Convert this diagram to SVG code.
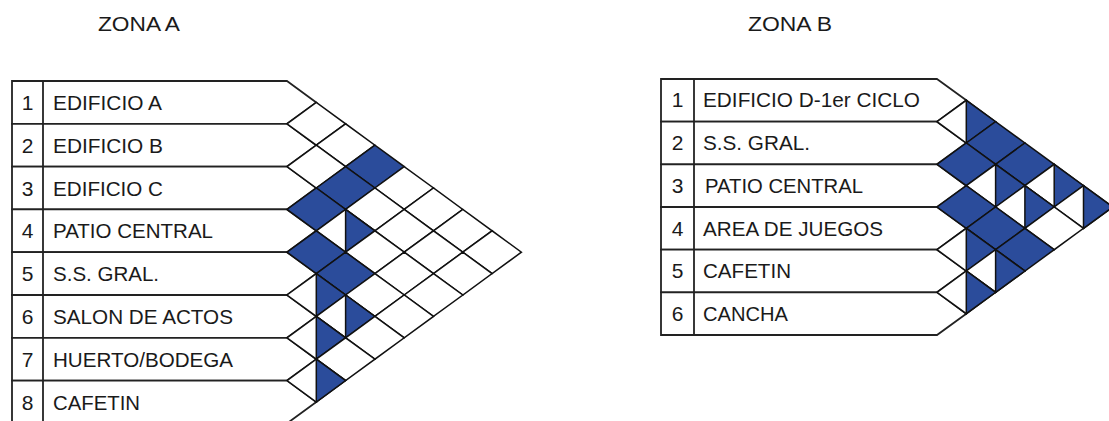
<svg xmlns="http://www.w3.org/2000/svg" width="1109" height="421" viewBox="0 0 1109 421">
<defs>
<style>
text{font-family:"Liberation Sans",Arial,sans-serif;fill:#1a1a1a;}
.lbl{font-size:21px;}
.num{font-size:21px;text-anchor:middle;}
.ttl{font-size:20px;}
.row{fill:#fff;stroke:#222;stroke-width:1.8;}
.div{stroke:#222;stroke-width:1.8;}
.w{fill:#fff;stroke:#111;stroke-width:1.5;}
.b{fill:#2b4c9b;stroke:#111;stroke-width:1.5;}
</style>
<path id="dia" d="M-29.3 0L0 -21.4L29.3 0L0 21.4Z"/>
<path id="half" d="M0 -21.4L29.3 0L0 21.4Z"/>
</defs>
<rect width="1109" height="421" fill="#fff"/>

<text class="ttl" x="98" y="31" textLength="82" lengthAdjust="spacingAndGlyphs">ZONA A</text>
<text class="ttl" x="748" y="31" textLength="84" lengthAdjust="spacingAndGlyphs">ZONA B</text>

<!-- ZONA A rows -->
<g id="zonaA-rows">
<g id="a1"><path class="row" d="M287 81L316.3 102.4L287 123.8H12V81Z"/><line class="div" x1="43" y1="81" x2="43" y2="123.8"/><text class="num" x="27.5" y="109.9">1</text><text class="lbl" x="53" y="109.9" textLength="109" lengthAdjust="spacingAndGlyphs">EDIFICIO A</text></g>
<g id="a2"><path class="row" d="M287 123.8L316.3 145.2L287 166.6H12V123.8Z"/><line class="div" x1="43" y1="123.8" x2="43" y2="166.6"/><text class="num" x="27.5" y="152.7">2</text><text class="lbl" x="53" y="152.7" textLength="110" lengthAdjust="spacingAndGlyphs">EDIFICIO B</text></g>
<g id="a3"><path class="row" d="M287 166.6L316.3 188L287 209.4H12V166.6Z"/><line class="div" x1="43" y1="166.6" x2="43" y2="209.4"/><text class="num" x="27.5" y="195.5">3</text><text class="lbl" x="53" y="195.5" textLength="110" lengthAdjust="spacingAndGlyphs">EDIFICIO C</text></g>
<g id="a4"><path class="row" d="M287 209.4L316.3 230.8L287 252.2H12V209.4Z"/><line class="div" x1="43" y1="209.4" x2="43" y2="252.2"/><text class="num" x="27.5" y="238.3">4</text><text class="lbl" x="53" y="238.3" textLength="160" lengthAdjust="spacingAndGlyphs">PATIO CENTRAL</text></g>
<g id="a5"><path class="row" d="M287 252.2L316.3 273.6L287 295H12V252.2Z"/><line class="div" x1="43" y1="252.2" x2="43" y2="295"/><text class="num" x="27.5" y="281.1">5</text><text class="lbl" x="53" y="281.1" textLength="106" lengthAdjust="spacingAndGlyphs">S.S. GRAL.</text></g>
<g id="a6"><path class="row" d="M287 295L316.3 316.4L287 337.8H12V295Z"/><line class="div" x1="43" y1="295" x2="43" y2="337.8"/><text class="num" x="27.5" y="323.9">6</text><text class="lbl" x="53" y="323.9" textLength="180" lengthAdjust="spacingAndGlyphs">SALON DE ACTOS</text></g>
<g id="a7"><path class="row" d="M287 337.8L316.3 359.2L287 380.6H12V337.8Z"/><line class="div" x1="43" y1="337.8" x2="43" y2="380.6"/><text class="num" x="27.5" y="366.7">7</text><text class="lbl" x="53" y="366.7" textLength="180" lengthAdjust="spacingAndGlyphs">HUERTO/BODEGA</text></g>
<g id="a8"><path class="row" d="M287 380.6L316.3 402L287 423.4H12V380.6Z"/><line class="div" x1="43" y1="380.6" x2="43" y2="423.4"/><text class="num" x="27.5" y="409.5">8</text><text class="lbl" x="53" y="409.5" textLength="87" lengthAdjust="spacingAndGlyphs">CAFETIN</text></g>
</g>

<!-- ZONA A matrix -->
<g id="zonaA-matrix">
<use href="#dia" class="w" x="316.3" y="123.8"/>
<use href="#dia" class="w" x="345.6" y="145.2"/>
<use href="#dia" class="b" x="374.9" y="166.6"/>
<use href="#dia" class="w" x="404.2" y="188"/>
<use href="#dia" class="w" x="433.5" y="209.4"/>
<use href="#dia" class="w" x="462.8" y="230.8"/>
<use href="#dia" class="w" x="492.1" y="252.2"/>
<use href="#dia" class="w" x="316.3" y="166.6"/>
<use href="#dia" class="b" x="345.6" y="188"/>
<use href="#dia" class="w" x="374.9" y="209.4"/>
<use href="#dia" class="w" x="404.2" y="230.8"/>
<use href="#dia" class="w" x="433.5" y="252.2"/>
<use href="#dia" class="w" x="462.8" y="273.6"/>
<use href="#dia" class="b" x="316.3" y="209.4"/>
<use href="#dia" class="w" x="345.6" y="230.8"/><use href="#half" class="b" x="345.6" y="230.8"/>
<use href="#dia" class="w" x="374.9" y="252.2"/>
<use href="#dia" class="w" x="404.2" y="273.6"/>
<use href="#dia" class="w" x="433.5" y="295"/>
<use href="#dia" class="b" x="316.3" y="252.2"/>
<use href="#dia" class="b" x="345.6" y="273.6"/>
<use href="#dia" class="w" x="374.9" y="295"/>
<use href="#dia" class="w" x="404.2" y="316.4"/>
<use href="#dia" class="w" x="316.3" y="295"/><use href="#half" class="b" x="316.3" y="295"/>
<use href="#dia" class="w" x="345.6" y="316.4"/><use href="#half" class="b" x="345.6" y="316.4"/>
<use href="#dia" class="w" x="374.9" y="337.8"/>
<use href="#dia" class="w" x="316.3" y="337.8"/><use href="#half" class="b" x="316.3" y="337.8"/>
<use href="#dia" class="w" x="345.6" y="359.2"/>
<use href="#dia" class="w" x="316.3" y="380.6"/><use href="#half" class="b" x="316.3" y="380.6"/>
</g>

<!-- ZONA B rows -->
<g id="zonaB-rows">
<g id="b1"><path class="row" d="M937 79L966.3 100.33L937 121.67H661V79Z"/><line class="div" x1="694" y1="79" x2="694" y2="121.67"/><text class="num" x="677.5" y="107">1</text><text class="lbl" x="703" y="107" textLength="217" lengthAdjust="spacingAndGlyphs">EDIFICIO D-1er CICLO</text></g>
<g id="b2"><path class="row" d="M937 121.67L966.3 143L937 164.33H661V121.67Z"/><line class="div" x1="694" y1="121.67" x2="694" y2="164.33"/><text class="num" x="677.5" y="150.2">2</text><text class="lbl" x="703" y="150.2" textLength="107" lengthAdjust="spacingAndGlyphs">S.S. GRAL.</text></g>
<g id="b3"><path class="row" d="M937 164.33L966.3 185.67L937 207H661V164.33Z"/><line class="div" x1="694" y1="164.33" x2="694" y2="207"/><text class="num" x="677.5" y="192.9">3</text><text class="lbl" x="705" y="192.9" textLength="158" lengthAdjust="spacingAndGlyphs">PATIO CENTRAL</text></g>
<g id="b4"><path class="row" d="M937 207L966.3 228.33L937 249.67H661V207Z"/><line class="div" x1="694" y1="207" x2="694" y2="249.67"/><text class="num" x="677.5" y="235.5">4</text><text class="lbl" x="703" y="235.5" textLength="180" lengthAdjust="spacingAndGlyphs">AREA DE JUEGOS</text></g>
<g id="b5"><path class="row" d="M937 249.67L966.3 271L937 292.33H661V249.67Z"/><line class="div" x1="694" y1="249.67" x2="694" y2="292.33"/><text class="num" x="677.5" y="278.2">5</text><text class="lbl" x="703" y="278.2" textLength="88" lengthAdjust="spacingAndGlyphs">CAFETIN</text></g>
<g id="b6"><path class="row" d="M937 292.33L966.3 313.67L937 335H661V292.33Z"/><line class="div" x1="694" y1="292.33" x2="694" y2="335"/><text class="num" x="677.5" y="320.9">6</text><text class="lbl" x="703" y="320.9" textLength="85" lengthAdjust="spacingAndGlyphs">CANCHA</text></g>
</g>

<!-- ZONA B matrix -->
<g id="zonaB-matrix">
<use href="#dia" class="w" x="966.3" y="121.67"/><use href="#half" class="b" x="966.3" y="121.67"/>
<use href="#dia" class="b" x="995.6" y="143"/>
<use href="#dia" class="b" x="1024.9" y="164.33"/>
<use href="#dia" class="w" x="1054.2" y="185.67"/><use href="#half" class="b" x="1054.2" y="185.67"/>
<use href="#dia" class="w" x="1083.5" y="207"/><use href="#half" class="b" x="1083.5" y="207"/>
<use href="#dia" class="b" x="966.3" y="164.33"/>
<use href="#dia" class="w" x="995.6" y="185.67"/><use href="#half" class="b" x="995.6" y="185.67"/>
<use href="#dia" class="w" x="1024.9" y="207"/><use href="#half" class="b" x="1024.9" y="207"/>
<use href="#dia" class="w" x="1054.2" y="228.33"/>
<use href="#dia" class="b" x="966.3" y="207"/>
<use href="#dia" class="b" x="995.6" y="228.33"/>
<use href="#dia" class="b" x="1024.9" y="249.67"/>
<use href="#dia" class="w" x="966.3" y="249.67"/><use href="#half" class="b" x="966.3" y="249.67"/>
<use href="#dia" class="w" x="995.6" y="271"/><use href="#half" class="b" x="995.6" y="271"/>
<use href="#dia" class="w" x="966.3" y="292.33"/><use href="#half" class="b" x="966.3" y="292.33"/>
</g>
</svg>
